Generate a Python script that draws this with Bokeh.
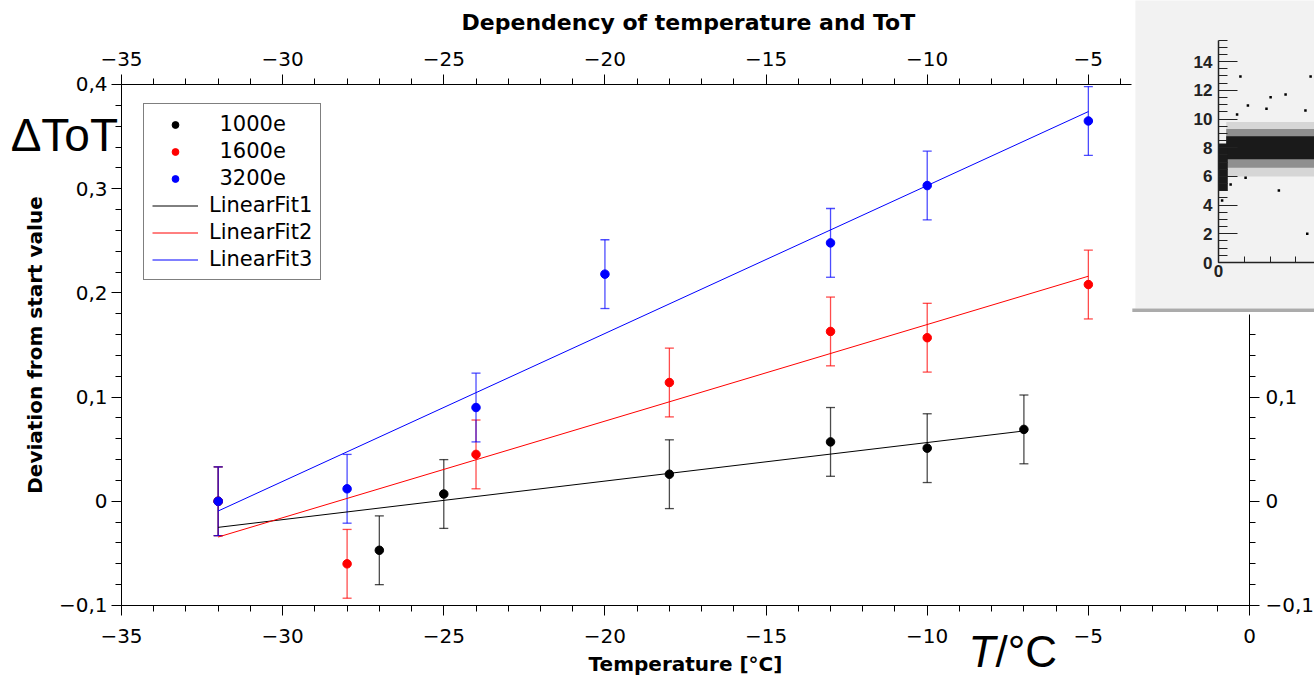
from bokeh.plotting import figure
from bokeh.models import (Range1d, LinearAxis, FixedTicker, CustomJSTickFormatter,
                          ColumnDataSource, Whisker, TeeHead, Legend, LegendItem, Label)
from bokeh.embed import file_html
from bokeh.resources import INLINE

# ---------------- data ----------------
temps_1000 = [-32, -27, -25, -18, -13, -10, -7]
dtot_1000 = [0.0, -0.047, 0.007, 0.026, 0.057, 0.051, 0.069]
err_1000 = [0.033, 0.033, 0.033, 0.033, 0.033, 0.033, 0.033]

temps_1600 = [-32, -28, -24, -18, -13, -10, -5]
dtot_1600 = [0.0, -0.060, 0.045, 0.114, 0.163, 0.157, 0.208]
err_1600 = [0.033, 0.033, 0.033, 0.033, 0.033, 0.033, 0.033]

temps_3200 = [-32, -28, -24, -20, -13, -10, -5]
dtot_3200 = [0.0, 0.012, 0.090, 0.218, 0.248, 0.303, 0.365]
err_3200 = [0.033, 0.033, 0.033, 0.033, 0.033, 0.033, 0.033]

fit1_x = [-32, -7]
fit1_y = [-0.025, 0.0675]
fit2_x = [-32, -5]
fit2_y = [-0.0343, 0.216]
fit3_x = [-32, -5]
fit3_y = [-0.0093, 0.374]

series_labels = ["1000e", "1600e", "3200e"]
fit_labels = ["LinearFit1", "LinearFit2", "LinearFit3"]

x_major_bottom = [-35, -30, -25, -20, -15, -10, -5, 0]
x_minor_bottom = list(range(-35, 1))
x_major_top = [-35, -30, -25, -20, -15, -10, -5]
x_minor_top = list(range(-35, -3))
y_major_left = [-0.1, 0.0, 0.1, 0.2, 0.3, 0.4]
y_minor_left = [round(-0.1 + 0.02 * i, 2) for i in range(26)]
y_major_right = [-0.1, 0.0, 0.1]
y_minor_right = [round(-0.1 + 0.02 * i, 2) for i in range(14)]

# inset (screenshot of a ToT-vs-time scatter)
inset_y_major = [0, 2, 4, 6, 8, 10, 12, 14]
inset_y_minor = [0.5 * i for i in range(32)]
inset_x_major = [0]
inset_x_minor = [1, 2, 3]
inset_out_x = [0.85, 3.57, 2.02, 2.60, 1.14, 1.86, 0.72, 3.37, 2.34, 3.44, 1.05, 0.47, 0.14]
inset_out_y = [12.96, 12.96, 11.52, 11.71, 10.94, 10.71, 10.31, 10.59, 5.02, 2.0, 5.9, 5.44, 4.32]
# density band of the scatter: (left, right, bottom, top)
band_left = [0.30, 0.30, 0.30, 0.02]
band_right = [4.0, 4.0, 4.0, 0.36]
band_bottom = [6.0, 6.6, 7.2, 5.0]
band_top = [9.8, 9.3, 8.8, 8.3]
band_color = ["#d6d6d6", "#8f8f8f", "#1a1a1a", "#1a1a1a"]

# ---------------- figure ----------------
W, H = 1314, 678
p = figure(width=W, height=H, output_backend="svg", toolbar_location=None,
           x_axis_location=None, y_axis_location=None,
           x_range=Range1d(-38.7544, 2.0168), y_range=Range1d(-0.17006, 0.48061),
           min_border=0, outline_line_color=None,
           background_fill_color="white", border_fill_color="white")
p.title.visible = False
p.grid.visible = False

p.extra_x_ranges["ix"] = Range1d(-47.21, 3.721)
p.extra_y_ranges["iy"] = Range1d(-28.99, 18.26)

FONT = "DejaVu Sans"

xfmt = CustomJSTickFormatter(code="""
if (Math.abs(tick) < 1e-9) { return '0'; }
return (tick < 0 ? '\u2212' : '') + Math.abs(tick).toFixed(0);
""")
yfmt = CustomJSTickFormatter(code="""
if (Math.abs(tick) < 1e-9) { return '0'; }
return (tick < 0 ? '\u2212' : '') + Math.abs(tick).toFixed(1).replace('.', ',');
""")


def style_axis(ax):
    ax.axis_line_color = "black"
    ax.axis_line_width = 1
    ax.major_tick_line_color = "black"
    ax.minor_tick_line_color = "black"
    ax.major_tick_out = 10
    ax.major_tick_in = 0
    ax.minor_tick_out = 6
    ax.minor_tick_in = 0
    ax.major_label_text_font = FONT
    ax.major_label_text_font_size = "20px"
    ax.major_label_text_color = "black"
    ax.axis_label_text_font = FONT
    ax.axis_label_text_font_style = "bold"
    ax.axis_label_text_font_size = "20px"
    ax.axis_label_text_color = "black"


xb = LinearAxis(fixed_location=-0.1, bounds=(-35, 0),
                ticker=FixedTicker(ticks=x_major_bottom, minor_ticks=x_minor_bottom),
                formatter=xfmt, axis_label="Temperature [°C]")
style_axis(xb)
xb.major_label_standoff = 14
xb.axis_label_standoff = 5
p.add_layout(xb, "below")

xt = LinearAxis(fixed_location=0.4, bounds=(-35, -3.65),
                ticker=FixedTicker(ticks=x_major_top, minor_ticks=x_minor_top),
                formatter=xfmt)
style_axis(xt)
xt.major_label_standoff = 8
p.add_layout(xt, "above")

yl = LinearAxis(fixed_location=-35, bounds=(-0.1, 0.4),
                ticker=FixedTicker(ticks=y_major_left, minor_ticks=y_minor_left),
                formatter=yfmt, axis_label="Deviation from start value")
style_axis(yl)
yl.major_label_standoff = 4
yl.axis_label_standoff = 9
p.add_layout(yl, "left")

yr = LinearAxis(fixed_location=0, bounds=(-0.1, 0.179),
                ticker=FixedTicker(ticks=y_major_right, minor_ticks=y_minor_right),
                formatter=yfmt)
style_axis(yr)
yr.major_label_standoff = 6
p.add_layout(yr, "right")

# ---------------- data glyphs ----------------
colors = ["black", "red", "blue"]
sets = [(temps_1000, dtot_1000, err_1000),
        (temps_1600, dtot_1600, err_1600),
        (temps_3200, dtot_3200, err_3200)]
fits = [(fit1_x, fit1_y), (fit2_x, fit2_y), (fit3_x, fit3_y)]

sources = []
for (t, v, e), c in zip(sets, colors):
    src = ColumnDataSource(dict(x=t, y=v,
                                lower=[a - b for a, b in zip(v, e)],
                                upper=[a + b for a, b in zip(v, e)]))
    sources.append(src)
    w = Whisker(source=src, base="x", upper="upper", lower="lower", dimension="height",
                line_color=c, line_alpha=0.7, line_width=1.3,
                upper_head=TeeHead(size=9, line_color=c, line_alpha=0.7, line_width=1.3),
                lower_head=TeeHead(size=9, line_color=c, line_alpha=0.7, line_width=1.3),
                level="underlay")
    p.add_layout(w)

line_rs = []
for (fx, fy), c in zip(fits, colors):
    line_rs.append(p.line(fx, fy, line_color=c, line_width=1))

scat_rs = []
for src, c in zip(sources, colors):
    scat_rs.append(p.scatter("x", "y", source=src, size=8.5, marker="circle",
                             fill_color=c, line_color=c))

items = [LegendItem(label="\u2002" + lab, renderers=[r]) for lab, r in zip(series_labels, scat_rs)]
items += [LegendItem(label=lab, renderers=[r]) for lab, r in zip(fit_labels, line_rs)]
legend = Legend(items=items, location=(143, 398), orientation="vertical",
                glyph_width=46, glyph_height=17, label_height=17,
                label_standoff=11, spacing=3, padding=8, margin=0,
                label_text_font=FONT, label_text_font_size="21px", label_text_color="black",
                border_line_color="black", border_line_width=1,
                background_fill_color="white", background_fill_alpha=1)
p.add_layout(legend)

# ---------------- texts ----------------
p.add_layout(Label(x=-17.41, y=0.4597, text="Dependency of temperature and ToT",
                   text_font=FONT, text_font_style="bold", text_font_size="22px",
                   text_align="center", text_baseline="middle", text_color="black"))
p.add_layout(Label(x=-38.44, y=0.352, text="\u0394ToT",
                   text_font="Liberation Sans", text_font_size="46px",
                   text_align="left", text_baseline="alphabetic", text_color="black"))
p.add_layout(Label(x=-8.72, y=-0.1445, text="T",
                   text_font="Liberation Sans", text_font_style="italic", text_font_size="44px",
                   text_align="left", text_baseline="alphabetic", text_color="black"))
p.add_layout(Label(x=-7.88, y=-0.1445, text="/°C",
                   text_font="Liberation Sans", text_font_size="44px",
                   text_align="left", text_baseline="alphabetic", text_color="black"))

# ---------------- inset ----------------
p.quad(left=[-3.22], right=[4.0], bottom=[-3.21], top=[19.0],
       x_range_name="ix", y_range_name="iy", fill_color="#f2f2f2", line_color=None)
p.quad(left=[-3.34], right=[4.0], bottom=[-3.45], top=[-3.21],
       x_range_name="ix", y_range_name="iy", fill_color="#ababab", line_color=None)
p.quad(left=band_left, right=band_right, bottom=band_bottom, top=band_top,
       x_range_name="ix", y_range_name="iy", fill_color=band_color, line_color=None)
p.scatter(inset_out_x, inset_out_y, x_range_name="ix", y_range_name="iy",
          marker="square", size=2.5, fill_color="black", line_color=None)

iy_ax = LinearAxis(x_range_name="ix", y_range_name="iy", fixed_location=0, bounds=(0, 15.5),
                   ticker=FixedTicker(ticks=inset_y_major, minor_ticks=inset_y_minor))
iy_ax.axis_line_color = "#222222"
iy_ax.axis_line_width = 1.5
iy_ax.major_tick_line_color = "#222222"
iy_ax.minor_tick_line_color = "#222222"
iy_ax.major_tick_in = 19
iy_ax.major_tick_out = 0
iy_ax.minor_tick_in = 9
iy_ax.minor_tick_out = 0
iy_ax.major_label_text_font = "Liberation Sans"
iy_ax.major_label_text_font_style = "bold"
iy_ax.major_label_text_font_size = "17px"
iy_ax.major_label_text_color = "#222222"
iy_ax.major_label_standoff = 6
p.add_layout(iy_ax, "left")

ix_ax = LinearAxis(x_range_name="ix", y_range_name="iy", fixed_location=0, bounds=(0, 4.0),
                   ticker=FixedTicker(ticks=inset_x_major, minor_ticks=inset_x_minor))
ix_ax.axis_line_color = "#222222"
ix_ax.axis_line_width = 1.5
ix_ax.major_tick_line_color = "#222222"
ix_ax.minor_tick_line_color = "#222222"
ix_ax.major_tick_in = 6
ix_ax.major_tick_out = 0
ix_ax.minor_tick_in = 6
ix_ax.minor_tick_out = 0
ix_ax.major_label_text_font = "Liberation Sans"
ix_ax.major_label_text_font_style = "bold"
ix_ax.major_label_text_font_size = "17px"
ix_ax.major_label_text_color = "#222222"
ix_ax.major_label_standoff = 2
p.add_layout(ix_ax, "below")

open("out.html", "w").write(file_html(p, INLINE))
